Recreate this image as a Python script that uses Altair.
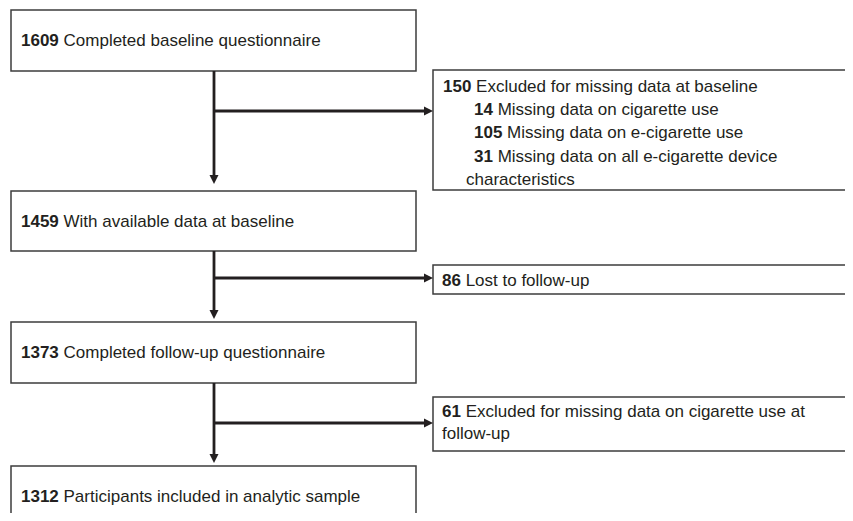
import altair as alt
import pandas as pd

# ---------------- content ----------------
main_numbers = ["1609", "1459", "1373", "1312"]
main_texts = [
    "Completed baseline questionnaire",
    "With available data at baseline",
    "Completed follow-up questionnaire",
    "Participants included in analytic sample",
]

excl_numbers = ["150", "14", "105", "31", "", "86", "61", ""]
excl_texts = [
    "Excluded for missing data at baseline",
    "Missing data on cigarette use",
    "Missing data on e-cigarette use",
    "Missing data on all e-cigarette device",
    "characteristics",
    "Lost to follow-up",
    "Excluded for missing data on cigarette use at",
    "follow-up",
]

# ---------------- layout (pixel positions in the 853x521 page) ----------------
FS = 17
DIGIT_W = 0.556 * FS
SPACE_W = 0.278 * FS

main_box_y = [(10, 71), (191, 251), (322, 383), (466, 519)]
main_box_x = (11, 416)
main_text_y = [41, 222, 353, 497]
main_text_x = 21

side_box_y = [(70, 190), (265, 294), (397, 451)]
side_box_x = (433, 851)
excl_line_x = [443, 474, 474, 474, 466, 442, 442, 442]
excl_line_y = [87, 110, 133, 157, 180, 281, 412, 434]

stem_x = 214
branch_y = [111, 278, 423]
arrow_tip_down = [184, 319, 463]
arrow_tip_right = 433
HEAD = 9

# page geometry: 8px margin, chart area
PX0, PY0 = 8, 8
W, H = 837, 505

# ---------------- tables ----------------
boxes = pd.DataFrame(
    [dict(x=main_box_x[0], x2=main_box_x[1], y=a, y2=b) for a, b in main_box_y]
    + [dict(x=side_box_x[0], x2=side_box_x[1], y=a, y2=b) for a, b in side_box_y]
)

segs = []
for i in range(3):
    segs.append(dict(x=stem_x, x2=stem_x, y=main_box_y[i][1], y2=arrow_tip_down[i] - HEAD + 1))
    segs.append(dict(x=stem_x, x2=arrow_tip_right - HEAD + 1, y=branch_y[i], y2=branch_y[i]))
segs = pd.DataFrame(segs)

heads_down = pd.DataFrame(dict(x=[stem_x] * 3, y=arrow_tip_down))
heads_right = pd.DataFrame(dict(x=[arrow_tip_right] * 3, y=branch_y))

num_rows, txt_rows = [], []
for n, t, y in zip(main_numbers, main_texts, main_text_y):
    num_rows.append(dict(x=main_text_x, y=y, t=n))
    txt_rows.append(dict(x=main_text_x + len(n) * DIGIT_W + SPACE_W, y=y, t=t))
for n, t, x, y in zip(excl_numbers, excl_texts, excl_line_x, excl_line_y):
    if n:
        num_rows.append(dict(x=x, y=y, t=n))
        txt_rows.append(dict(x=x + len(n) * DIGIT_W + SPACE_W, y=y, t=t))
    else:
        txt_rows.append(dict(x=x, y=y, t=t))
nums = pd.DataFrame(num_rows)
txts = pd.DataFrame(txt_rows)

# ---------------- chart ----------------
xs = alt.Scale(domain=[PX0, PX0 + W], nice=False, zero=False)
ys = alt.Scale(domain=[PY0, PY0 + H], nice=False, zero=False, reverse=True)
X = lambda f="x": alt.X(f"{f}:Q", scale=xs, axis=None)
Y = lambda f="y": alt.Y(f"{f}:Q", scale=ys, axis=None)

INK = "#231f20"

box_layer = alt.Chart(boxes).mark_rect(
    fill="white", stroke="#3d3d3d", strokeWidth=1.5, clip=False
).encode(x=X(), x2="x2:Q", y=Y(), y2="y2:Q")

seg_layer = alt.Chart(segs).mark_rule(color=INK, strokeWidth=2.8).encode(
    x=X(), x2="x2:Q", y=Y(), y2="y2:Q"
)

down_layer = alt.Chart(heads_down).mark_point(
    shape="M-1,-2L1,-2L0,0Z", size=HEAD * HEAD, filled=True, color=INK, opacity=1
).encode(x=X(), y=Y())

right_layer = alt.Chart(heads_right).mark_point(
    shape="M-2,-1L-2,1L0,0Z", size=HEAD * HEAD, filled=True, color=INK, opacity=1
).encode(x=X(), y=Y())

num_layer = alt.Chart(nums).mark_text(
    align="left", baseline="middle", font="Liberation Sans", fontSize=FS,
    fontWeight="bold", color=INK
).encode(x=X(), y=Y(), text="t:N")

txt_layer = alt.Chart(txts).mark_text(
    align="left", baseline="middle", font="Liberation Sans", fontSize=FS,
    color=INK
).encode(x=X(), y=Y(), text="t:N")

chart = (
    alt.layer(box_layer, seg_layer, down_layer, right_layer, num_layer, txt_layer)
    .properties(width=W, height=H, padding=0, autosize="none", background="white")
    .configure_view(stroke=None)
)

chart.save("out.html", embed_options={"renderer": "svg", "actions": False})
